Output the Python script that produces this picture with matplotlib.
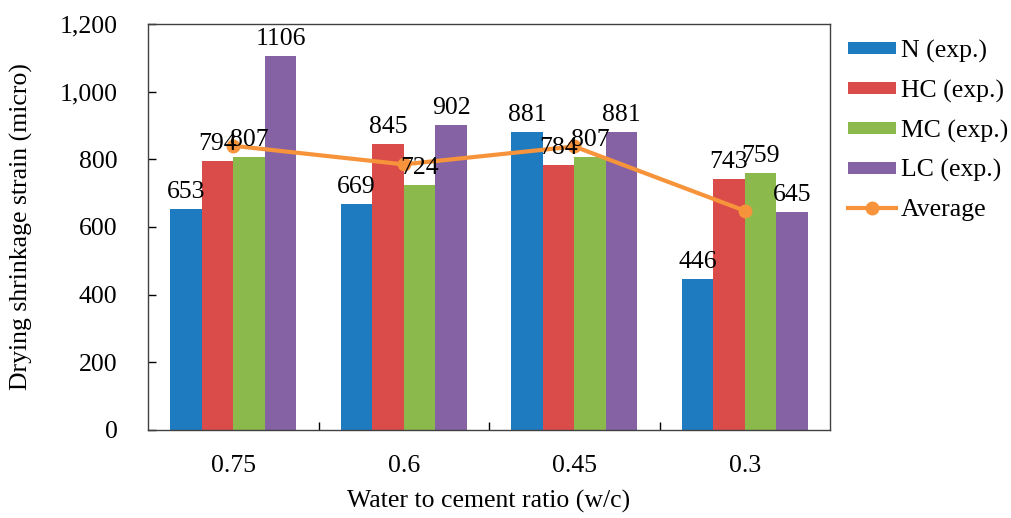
import numpy as np
import matplotlib.pyplot as plt
from matplotlib.ticker import FuncFormatter, FixedLocator

plt.rcParams['font.family'] = ['Liberation Serif', 'DejaVu Serif']

WC_RATIOS = ["0.75", "0.6", "0.45", "0.3"]
N_EXP = [653, 669, 881, 446]
HC_EXP = [794, 845, 784, 743]
MC_EXP = [807, 724, 807, 759]
LC_EXP = [1106, 902, 881, 645]
AVERAGE = [840, 785, 838, 648]

SERIES = [
    ("N (exp.)", N_EXP, "#1f7bbf"),
    ("HC (exp.)", HC_EXP, "#d94c4a"),
    ("MC (exp.)", MC_EXP, "#8bb94b"),
    ("LC (exp.)", LC_EXP, "#8462a3"),
]

FONT_SIZE = 18.5
BAR_WIDTH = 0.185


def main():
    fig = plt.figure(figsize=(10.11, 5.18), dpi=100)
    ax = fig.add_axes([0.1464, 0.1699, 0.6746, 0.7838])

    x = np.arange(len(WC_RATIOS))
    offsets = (np.arange(len(SERIES)) - 1.5) * BAR_WIDTH

    handles = []
    for (label, values, color), off in zip(SERIES, offsets):
        bars = ax.bar(x + off, values, BAR_WIDTH, color=color, label=label, zorder=2)
        handles.append(bars)
        for rect, v in zip(bars, values):
            ax.text(rect.get_x() + rect.get_width() / 2, v + 18, str(v),
                    ha="center", va="bottom", fontsize=FONT_SIZE, zorder=4)

    avg_line, = ax.plot(x, AVERAGE, color="#f7943b", lw=3, marker="o",
                        markersize=9, label="Average", zorder=3)
    handles.append(avg_line)

    ax.set_xlim(-0.5, len(WC_RATIOS) - 0.5)
    ax.set_ylim(0, 1200)
    ax.set_yticks(np.arange(0, 1201, 200))
    ax.yaxis.set_major_formatter(FuncFormatter(lambda v, _: f"{int(v):,}"))

    # category labels centred, ticks on the group boundaries
    ax.set_xticks(x)
    ax.set_xticklabels(WC_RATIOS)
    ax.xaxis.set_minor_locator(FixedLocator(np.arange(0.5, len(WC_RATIOS) - 1, 1.0)))
    ax.tick_params(axis="x", which="major", length=0, pad=18, labelsize=FONT_SIZE)
    ax.tick_params(axis="x", which="minor", direction="in", length=6, width=1)
    ax.tick_params(axis="y", direction="in", length=6, width=1, pad=22,
                   labelsize=FONT_SIZE)

    for spine in ax.spines.values():
        spine.set_linewidth(1)
        spine.set_color("#404040")

    ax.set_ylabel("Drying shrinkage strain (micro)", fontsize=FONT_SIZE, labelpad=19)
    ax.set_xlabel("Water to cement ratio (w/c)", fontsize=FONT_SIZE, labelpad=9)

    ax.legend(handles=handles, loc="upper left", bbox_to_anchor=(0.839, 0.923),
              bbox_transform=fig.transFigure, frameon=False,
              fontsize=FONT_SIZE, handlelength=1.85, handleheight=0.35,
              handletextpad=0.2, labelspacing=0.65, borderaxespad=0,
              borderpad=0)

    fig.savefig("out.png", dpi=100)


if __name__ == "__main__":
    main()
